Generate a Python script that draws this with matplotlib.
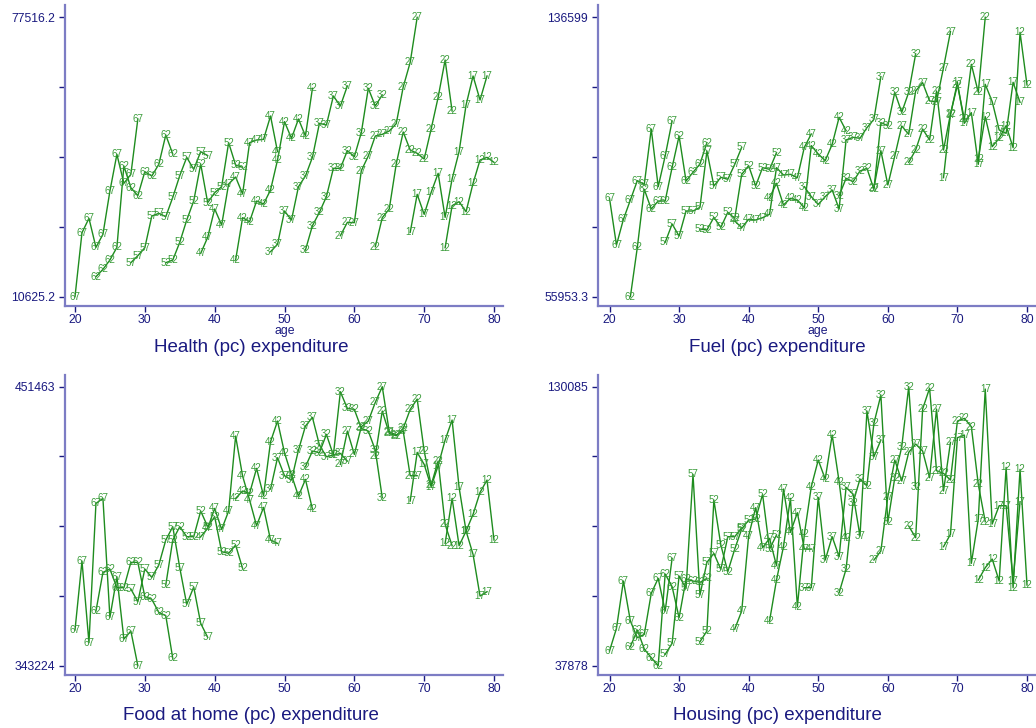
import matplotlib
matplotlib.use("Agg")
import matplotlib.pyplot as plt

# ---------------- data ----------------
cohorts = [67, 62, 57, 52, 47, 42, 37, 32, 27, 22, 17, 12]
first_age = [20, 23, 28, 33, 38, 43, 48, 53, 58, 63, 68, 73]

health = {
    67: [10625, 25950, 29383, 22438, 25551, 35928, 44708, 37764, 39919, 53169],
    62: [15414, 17170, 19405, 22438, 41914, 36726, 34810, 40558, 39520, 42314, 49338, 44788],
    57: [18767, 20443, 22359, 29941, 30580, 29782, 34411, 39600, 43990, 41116, 45347, 44389],
    52: [18767, 19405, 23636, 28984, 33533, 42393, 33134, 35529, 36966, 47502, 42154, 41595],
    47: [21002, 24833, 31618, 27786, 37604, 39280, 35210, 47502, 48140, 48300, 53887, 45347],
    42: [19405, 29542, 28585, 33533, 32815, 36167, 43351, 52531, 48540, 53169, 49098, 60513],
    37: [21401, 23157, 31139, 28984, 36966, 39520, 43990, 52131, 51732, 58677, 56282, 61071],
    32: [21800, 27627, 30819, 34571, 41356, 41356, 45586, 44149, 49896, 60513, 56282, 58916],
    27: [25232, 28425, 28345, 40797, 44309, 49098, 49497, 50296, 52052, 60832, 66738, 77516],
    22: [22598, 29542, 31618, 42393, 50056, 45746, 44948, 43591, 50774, 58357, 67297, 55085],
    17: [26030, 35130, 30341, 35609, 40158, 29622, 38801, 45347, 56522, 63466, 57719, 63466],
    12: [22359, 32416, 33374, 30979, 37764, 43351, 43990, 42792],
}

fuel = {
    67: [84344, 70870, 78281, 83863, 89445, 88386, 104362, 87712, 96566, 106671],
    62: [55953, 70197, 86942, 81264, 83574, 83574, 93294, 102341, 89348, 91851, 94257, 100416],
    57: [71640, 76933, 73469, 80687, 80687, 81745, 98010, 87905, 90407, 89829, 94160, 99069],
    52: [75490, 75201, 78858, 75971, 80302, 78569, 91273, 93775, 87905, 93198, 92717, 97529],
    47: [77799, 75875, 78281, 78088, 78762, 79724, 93198, 91081, 91273, 90311, 99069, 102918],
    42: [84536, 88675, 82419, 84344, 83863, 81649, 99550, 97144, 95219, 99935, 107730, 103881],
    37: [87712, 84825, 82611, 84825, 86750, 81264, 101186, 101956, 101667, 104747, 107153, 119471],
    32: [85114, 90118, 89156, 92235, 93005, 86942, 106190, 105324, 114948, 109174, 114948, 126016],
    27: [87423, 98106, 88193, 96566, 105228, 102822, 115333, 117739, 112446, 112253, 122070, 132464],
    22: [94738, 98299, 104362, 101186, 115333, 98299, 108693, 117065, 107153, 123032, 114948, 136599],
    17: [90311, 108404, 117835, 105998, 109077, 94160, 117258, 112253, 104073, 103111, 117835, 112061],
    12: [95700, 107923, 99261, 101667, 105324, 98972, 132271, 117065],
}

food = {
    67: [357059, 383824, 352146, 406193, 408133, 361973, 377747, 353568, 356671, 343224],
    62: [364429, 379428, 380721, 373480, 373480, 383307, 383307, 369989, 368955, 363912, 362619, 346069],
    57: [372963, 368050, 380721, 377489, 382273, 391970, 397142, 381238, 367015, 373739, 359645, 354215],
    52: [374515, 391970, 397142, 393263, 393263, 403219, 397142, 401021, 387445, 386798, 390031, 380980],
    47: [393263, 396496, 404254, 396108, 403219, 432312, 416796, 407486, 397530, 404642, 391970, 390677],
    42: [408133, 410977, 410072, 419770, 409167, 430114, 438130, 425847, 417184, 409038, 415503, 403995],
    37: [411753, 423907, 416925, 415244, 426881, 436191, 439553, 428821, 424295, 424942, 425588, 422614],
    32: [420416, 426493, 425847, 432958, 424942, 449500, 443044, 442656, 435286, 434251, 426881, 408391],
    27: [421321, 434251, 425200, 435932, 438130, 445371, 451463, 433993, 432700, 434251, 416925, 416925],
    22: [424554, 442009, 433346, 432441, 435286, 442656, 446664, 426493, 413305, 422614, 398047, 389772],
    17: [407098, 425976, 421321, 412658, 420804, 430760, 438518, 412400, 395461, 386410, 370248, 371929],
    12: [390677, 408133, 389772, 395461, 401926, 410460, 415244, 391970],
}

housing = {
    67: [42725, 50216, 65859, 52639, 47131, 48233, 61783, 66740, 55944, 73350],
    62: [44157, 49665, 43386, 40522, 37878, 68172, 63986, 53741, 66520, 65859, 65418, 66740],
    57: [41623, 45259, 67511, 63435, 101110, 61232, 72028, 75002, 69714, 80510, 80510, 83484],
    52: [45810, 49335, 92628, 77756, 68943, 76434, 83044, 86018, 86348, 94500, 76434, 81061],
    47: [49996, 55944, 80840, 90094, 76875, 79959, 70926, 96263, 81942, 88441, 76434, 76434],
    42: [52639, 66189, 77205, 93178, 57376, 81281, 97034, 105847, 99568, 114109, 98686, 79959],
    37: [63655, 63655, 93509, 72799, 80510, 73900, 96814, 94610, 80730, 122040, 106948, 112456],
    32: [62003, 69824, 91746, 99568, 97364, 117964, 127328, 85247, 100008, 110253, 130085, 96814],
    27: [72799, 75773, 93729, 105847, 98907, 108380, 111134, 108821, 100008, 122701, 95602, 111685],
    22: [84035, 80179, 122701, 129600, 102322, 101440, 99237, 118735, 119617, 116863, 97805, 85467],
    17: [77205, 81281, 113227, 114109, 71697, 86348, 129311, 84696, 90755, 90755, 65859, 92077],
    12: [66189, 70265, 73129, 65859, 103423, 63655, 102762, 64537],
}

titles = ["Health (pc) expenditure", "Fuel (pc) expenditure",
          "Food at home (pc) expenditure", "Housing (pc) expenditure"]
y_range_labels = [("10625.2", "77516.2"), ("55953.3", "136599"),
                  ("343224", "451463"), ("37878", "130085")]
y_range_values = [(10625.2, 77516.2), (55953.3, 136599.0),
                  (343224.0, 451463.0), (37878.0, 130085.0)]
x_ticks = [20, 30, 40, 50, 60, 70, 80]
x_label = "age"

# ---------------- layout (pixels) ----------------
W, H = 1036, 728
fig = plt.figure(figsize=(W / 100, H / 100), dpi=100)
fig.patch.set_facecolor("white")

NAVY = "#1a1a80"
AXIS_LINE = "#7c7cc4"
LINE_GREEN = "#1e8c1e"
LABEL_GREEN = "#3a9c3a"
FONT = "Liberation Sans"

# (left, top, right, bottom, x of age20, x of age80, y of max, y of min,
#  title_x, title_y, age_y or None)
layout = [
    (65, 5, 503, 306, 75.0, 494.0, 17.3, 296.7, 251, 347, 331),
    (598, 5, 1036, 306, 609.5, 1027.0, 17.3, 296.7, 777, 347, 331),
    (65, 375, 503, 675, 75.0, 494.0, 386.7, 665.7, 251, 716, None),
    (598, 375, 1036, 675, 609.5, 1027.0, 386.7, 665.7, 777, 716, None),
]

datasets = [health, fuel, food, housing]

for i, data in enumerate(datasets):
    l, t, r, b, x20, x80, ytop, ybot, tx, ty, ay = layout[i]
    ax = fig.add_axes([l / W, 1 - b / H, (r - l) / W, (b - t) / H])
    vmin, vmax = y_range_values[i]
    ppx = (x80 - x20) / 60.0
    ax.set_xlim(20 - (x20 - l) / ppx, 20 + (r - x20) / ppx)
    vpp = (vmax - vmin) / (ybot - ytop)
    ax.set_ylim(vmin - (b - ybot) * vpp, vmax + (ytop - t) * vpp)

    for c, a0 in zip(cohorts, first_age):
        vals = data[c]
        ages = list(range(a0, a0 + len(vals)))
        ax.plot(ages, vals, color=LINE_GREEN, lw=1.0, zorder=2)
        for a, v in zip(ages, vals):
            ax.text(a, v, str(c), ha="center", va="center", fontsize=7,
                    color=LABEL_GREEN, family=FONT, zorder=3)

    for s in ["top", "right"]:
        ax.spines[s].set_visible(False)
    for s in ["left", "bottom"]:
        ax.spines[s].set_color(AXIS_LINE)
        ax.spines[s].set_linewidth(1.6)
    step = (vmax - vmin) / 4
    yt = [vmin + k * step for k in range(5)]
    ax.set_yticks(yt)
    ax.set_yticklabels([y_range_labels[i][0], "", "", "", y_range_labels[i][1]])
    ax.set_xticks(x_ticks)
    ax.set_xticklabels([str(v) for v in x_ticks])
    ax.tick_params(axis="both", direction="out", length=4, width=1.0,
                   color=NAVY, labelcolor=NAVY, labelsize=8.8)
    ax.tick_params(axis="y", pad=3)
    ax.tick_params(axis="x", pad=1.5)
    for lab in ax.get_xticklabels() + ax.get_yticklabels():
        lab.set_family(FONT)
    ax.set_facecolor("white")

    if ay is not None:
        fig.text(((x20 + x80) / 2) / W, 1 - ay / H, x_label, ha="center", va="center",
                 fontsize=8.8, color=NAVY, family=FONT)
    fig.text(tx / W, 1 - ty / H, titles[i], ha="center", va="center",
             fontsize=13.5, color=NAVY, family=FONT)

fig.savefig("out.png", dpi=100, facecolor="white")
